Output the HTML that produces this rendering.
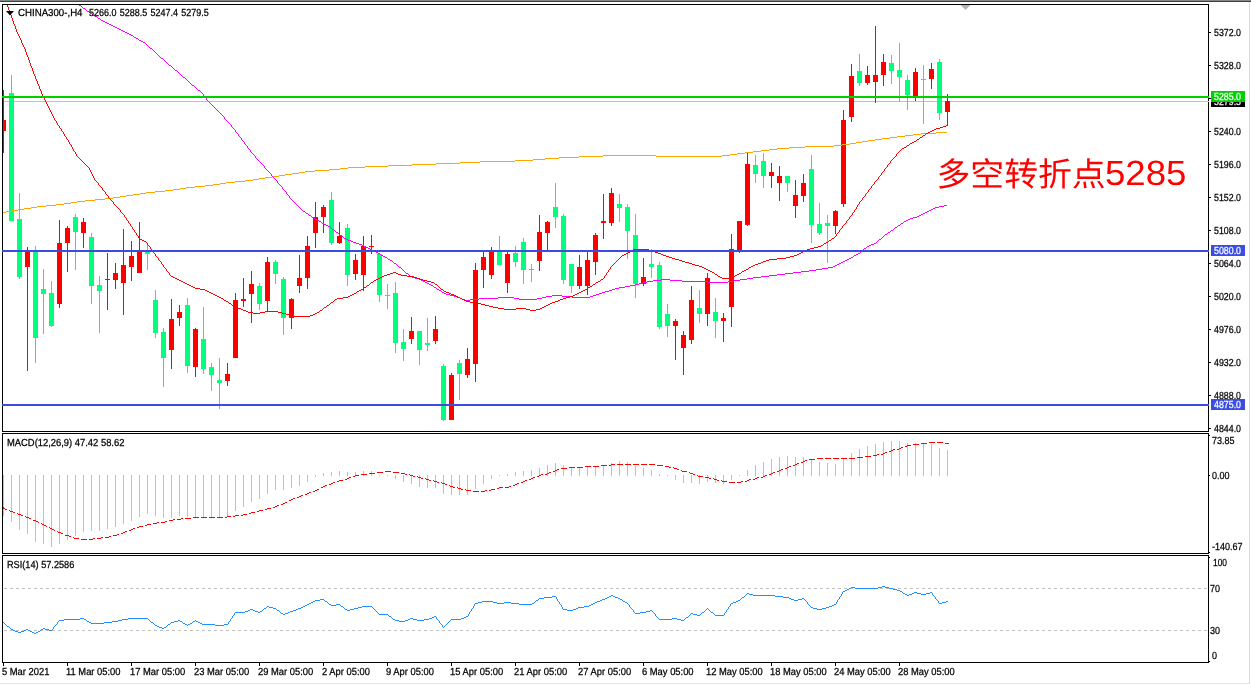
<!DOCTYPE html><html lang="zh"><head><meta charset="utf-8"><title>CHINA300-,H4</title>
<style>html,body{margin:0;padding:0;background:#fff;overflow:hidden}svg{display:block}text{font-family:"Liberation Sans","Noto Sans CJK SC",sans-serif;font-size:10.2px;text-rendering:geometricPrecision;fill:#000;stroke:#000;stroke-width:0.25px}.w{stroke:#fff}.w{fill:#fff}.ce{shape-rendering:crispEdges}</style></head><body>
<svg width="1251" height="685" viewBox="0 0 1251 685">
<rect width="1251" height="685" fill="#fff"/>
<g class="ce">
<rect x="0" y="0" width="1251" height="1" fill="#868686"/><rect x="0" y="1" width="1251" height="1" fill="#404040"/>
<rect x="1249" y="2" width="1" height="682" fill="#dcdcdc"/><rect x="0" y="683" width="1250" height="1" fill="#e4e4e4"/>
</g>
<g class="ce">
<rect x="3" y="101" width="1205" height="1" fill="#c0c0c0"/>
<rect x="3" y="90" width="1" height="63" fill="#FF0000"/>
<rect x="3" y="120" width="3" height="11" fill="#FF0000"/>
<rect x="11" y="75" width="1" height="146" fill="#00FF7F"/>
<rect x="9" y="93" width="5" height="128" fill="#00FF7F"/>
<rect x="19" y="193" width="1" height="86" fill="#00FF7F"/>
<rect x="17" y="219" width="5" height="58" fill="#00FF7F"/>
<rect x="27" y="247" width="1" height="124" fill="#FF0000"/>
<rect x="25" y="252" width="5" height="15" fill="#FF0000"/>
<rect x="35" y="246" width="1" height="117" fill="#00FF7F"/>
<rect x="33" y="252" width="5" height="86" fill="#00FF7F"/>
<rect x="43" y="269" width="1" height="65" fill="#00FF7F"/>
<rect x="41" y="289" width="5" height="5" fill="#00FF7F"/>
<rect x="51" y="281" width="1" height="46" fill="#00FF7F"/>
<rect x="49" y="293" width="5" height="33" fill="#00FF7F"/>
<rect x="59" y="220" width="1" height="88" fill="#FF0000"/>
<rect x="57" y="243" width="5" height="61" fill="#FF0000"/>
<rect x="67" y="226" width="1" height="46" fill="#FF0000"/>
<rect x="65" y="228" width="5" height="15" fill="#FF0000"/>
<rect x="75" y="214" width="1" height="56" fill="#00FF7F"/>
<rect x="73" y="217" width="5" height="15" fill="#00FF7F"/>
<rect x="83" y="218" width="1" height="30" fill="#FF0000"/>
<rect x="81" y="222" width="5" height="11" fill="#FF0000"/>
<rect x="91" y="233" width="1" height="71" fill="#00FF7F"/>
<rect x="89" y="237" width="5" height="49" fill="#00FF7F"/>
<rect x="99" y="276" width="1" height="57" fill="#00FF7F"/>
<rect x="97" y="285" width="5" height="6" fill="#00FF7F"/>
<rect x="107" y="253" width="1" height="57" fill="#FF0000"/>
<rect x="105" y="279" width="5" height="1" fill="#FF0000"/>
<rect x="115" y="263" width="1" height="26" fill="#FF0000"/>
<rect x="113" y="273" width="5" height="7" fill="#FF0000"/>
<rect x="123" y="229" width="1" height="86" fill="#FF0000"/>
<rect x="121" y="265" width="5" height="18" fill="#FF0000"/>
<rect x="131" y="241" width="1" height="40" fill="#FF0000"/>
<rect x="129" y="256" width="5" height="11" fill="#FF0000"/>
<rect x="139" y="222" width="1" height="51" fill="#FF0000"/>
<rect x="137" y="252" width="5" height="21" fill="#FF0000"/>
<rect x="147" y="244" width="1" height="26" fill="#00FF7F"/>
<rect x="145" y="252" width="5" height="2" fill="#00FF7F"/>
<rect x="155" y="290" width="1" height="48" fill="#00FF7F"/>
<rect x="153" y="300" width="5" height="33" fill="#00FF7F"/>
<rect x="163" y="328" width="1" height="59" fill="#00FF7F"/>
<rect x="161" y="332" width="5" height="26" fill="#00FF7F"/>
<rect x="171" y="299" width="1" height="70" fill="#FF0000"/>
<rect x="169" y="319" width="5" height="31" fill="#FF0000"/>
<rect x="179" y="305" width="1" height="21" fill="#FF0000"/>
<rect x="177" y="312" width="5" height="6" fill="#FF0000"/>
<rect x="187" y="298" width="1" height="75" fill="#00FF7F"/>
<rect x="185" y="305" width="5" height="61" fill="#00FF7F"/>
<rect x="195" y="328" width="1" height="49" fill="#FF0000"/>
<rect x="193" y="329" width="5" height="38" fill="#FF0000"/>
<rect x="203" y="307" width="1" height="67" fill="#00FF7F"/>
<rect x="201" y="339" width="5" height="30" fill="#00FF7F"/>
<rect x="211" y="363" width="1" height="28" fill="#00FF7F"/>
<rect x="209" y="367" width="5" height="8" fill="#00FF7F"/>
<rect x="219" y="358" width="1" height="51" fill="#00FF7F"/>
<rect x="217" y="380" width="5" height="3" fill="#00FF7F"/>
<rect x="227" y="363" width="1" height="23" fill="#FF0000"/>
<rect x="225" y="374" width="5" height="7" fill="#FF0000"/>
<rect x="235" y="293" width="1" height="65" fill="#FF0000"/>
<rect x="233" y="300" width="5" height="58" fill="#FF0000"/>
<rect x="243" y="278" width="1" height="29" fill="#FF0000"/>
<rect x="241" y="299" width="5" height="2" fill="#FF0000"/>
<rect x="251" y="271" width="1" height="52" fill="#FF0000"/>
<rect x="249" y="284" width="5" height="10" fill="#FF0000"/>
<rect x="259" y="283" width="1" height="27" fill="#00FF7F"/>
<rect x="257" y="286" width="5" height="18" fill="#00FF7F"/>
<rect x="267" y="257" width="1" height="54" fill="#FF0000"/>
<rect x="265" y="262" width="5" height="39" fill="#FF0000"/>
<rect x="275" y="260" width="1" height="24" fill="#00FF7F"/>
<rect x="273" y="262" width="5" height="12" fill="#00FF7F"/>
<rect x="283" y="277" width="1" height="58" fill="#00FF7F"/>
<rect x="281" y="279" width="5" height="39" fill="#00FF7F"/>
<rect x="291" y="298" width="1" height="31" fill="#FF0000"/>
<rect x="289" y="299" width="5" height="19" fill="#FF0000"/>
<rect x="299" y="255" width="1" height="38" fill="#FF0000"/>
<rect x="297" y="278" width="5" height="8" fill="#FF0000"/>
<rect x="307" y="236" width="1" height="53" fill="#FF0000"/>
<rect x="305" y="246" width="5" height="32" fill="#FF0000"/>
<rect x="315" y="202" width="1" height="46" fill="#FF0000"/>
<rect x="313" y="217" width="5" height="16" fill="#FF0000"/>
<rect x="323" y="205" width="1" height="28" fill="#FF0000"/>
<rect x="321" y="207" width="5" height="10" fill="#FF0000"/>
<rect x="331" y="192" width="1" height="53" fill="#00FF7F"/>
<rect x="329" y="200" width="5" height="43" fill="#00FF7F"/>
<rect x="339" y="222" width="1" height="22" fill="#FF0000"/>
<rect x="337" y="236" width="5" height="7" fill="#FF0000"/>
<rect x="347" y="224" width="1" height="62" fill="#00FF7F"/>
<rect x="345" y="228" width="5" height="47" fill="#00FF7F"/>
<rect x="355" y="254" width="1" height="26" fill="#FF0000"/>
<rect x="353" y="260" width="5" height="14" fill="#FF0000"/>
<rect x="363" y="236" width="1" height="55" fill="#FF0000"/>
<rect x="361" y="246" width="5" height="29" fill="#FF0000"/>
<rect x="371" y="235" width="1" height="19" fill="#FF0000"/>
<rect x="369" y="246" width="5" height="1" fill="#FF0000"/>
<rect x="379" y="254" width="1" height="48" fill="#00FF7F"/>
<rect x="377" y="254" width="5" height="41" fill="#00FF7F"/>
<rect x="387" y="284" width="1" height="25" fill="#00FF7F"/>
<rect x="385" y="295" width="5" height="1" fill="#00FF7F"/>
<rect x="395" y="282" width="1" height="71" fill="#00FF7F"/>
<rect x="393" y="293" width="5" height="50" fill="#00FF7F"/>
<rect x="403" y="329" width="1" height="32" fill="#00FF7F"/>
<rect x="401" y="342" width="5" height="7" fill="#00FF7F"/>
<rect x="411" y="317" width="1" height="27" fill="#FF0000"/>
<rect x="409" y="331" width="5" height="8" fill="#FF0000"/>
<rect x="419" y="331" width="1" height="34" fill="#00FF7F"/>
<rect x="417" y="331" width="5" height="19" fill="#00FF7F"/>
<rect x="427" y="318" width="1" height="33" fill="#00FF7F"/>
<rect x="425" y="343" width="5" height="2" fill="#00FF7F"/>
<rect x="435" y="316" width="1" height="28" fill="#FF0000"/>
<rect x="433" y="329" width="5" height="12" fill="#FF0000"/>
<rect x="443" y="364" width="1" height="57" fill="#00FF7F"/>
<rect x="441" y="366" width="5" height="54" fill="#00FF7F"/>
<rect x="451" y="373" width="1" height="47" fill="#FF0000"/>
<rect x="449" y="375" width="5" height="45" fill="#FF0000"/>
<rect x="459" y="360" width="1" height="40" fill="#00FF7F"/>
<rect x="457" y="363" width="5" height="11" fill="#00FF7F"/>
<rect x="467" y="348" width="1" height="30" fill="#FF0000"/>
<rect x="465" y="359" width="5" height="16" fill="#FF0000"/>
<rect x="475" y="263" width="1" height="119" fill="#FF0000"/>
<rect x="473" y="270" width="5" height="94" fill="#FF0000"/>
<rect x="483" y="252" width="1" height="36" fill="#FF0000"/>
<rect x="481" y="257" width="5" height="13" fill="#FF0000"/>
<rect x="491" y="247" width="1" height="32" fill="#FF0000"/>
<rect x="489" y="252" width="5" height="23" fill="#FF0000"/>
<rect x="499" y="236" width="1" height="29" fill="#00FF7F"/>
<rect x="497" y="252" width="5" height="13" fill="#00FF7F"/>
<rect x="507" y="252" width="1" height="41" fill="#FF0000"/>
<rect x="505" y="254" width="5" height="29" fill="#FF0000"/>
<rect x="515" y="246" width="1" height="21" fill="#00FF7F"/>
<rect x="513" y="253" width="5" height="9" fill="#00FF7F"/>
<rect x="523" y="238" width="1" height="46" fill="#00FF7F"/>
<rect x="521" y="242" width="5" height="28" fill="#00FF7F"/>
<rect x="531" y="264" width="1" height="18" fill="#00FF7F"/>
<rect x="529" y="269" width="5" height="1" fill="#00FF7F"/>
<rect x="539" y="215" width="1" height="56" fill="#FF0000"/>
<rect x="537" y="232" width="5" height="29" fill="#FF0000"/>
<rect x="547" y="221" width="1" height="29" fill="#FF0000"/>
<rect x="545" y="222" width="5" height="11" fill="#FF0000"/>
<rect x="555" y="183" width="1" height="45" fill="#00FF7F"/>
<rect x="553" y="207" width="5" height="10" fill="#00FF7F"/>
<rect x="563" y="214" width="1" height="70" fill="#00FF7F"/>
<rect x="561" y="216" width="5" height="64" fill="#00FF7F"/>
<rect x="571" y="264" width="1" height="29" fill="#00FF7F"/>
<rect x="569" y="264" width="5" height="22" fill="#00FF7F"/>
<rect x="579" y="255" width="1" height="34" fill="#FF0000"/>
<rect x="577" y="267" width="5" height="19" fill="#FF0000"/>
<rect x="587" y="252" width="1" height="43" fill="#FF0000"/>
<rect x="585" y="260" width="5" height="26" fill="#FF0000"/>
<rect x="595" y="233" width="1" height="42" fill="#FF0000"/>
<rect x="593" y="235" width="5" height="27" fill="#FF0000"/>
<rect x="603" y="194" width="1" height="45" fill="#FF0000"/>
<rect x="601" y="221" width="5" height="2" fill="#FF0000"/>
<rect x="611" y="188" width="1" height="38" fill="#FF0000"/>
<rect x="609" y="193" width="5" height="30" fill="#FF0000"/>
<rect x="619" y="194" width="1" height="28" fill="#00FF7F"/>
<rect x="617" y="204" width="5" height="4" fill="#00FF7F"/>
<rect x="627" y="204" width="1" height="55" fill="#00FF7F"/>
<rect x="625" y="207" width="5" height="24" fill="#00FF7F"/>
<rect x="635" y="214" width="1" height="84" fill="#00FF7F"/>
<rect x="633" y="235" width="5" height="49" fill="#00FF7F"/>
<rect x="643" y="258" width="1" height="28" fill="#FF0000"/>
<rect x="641" y="277" width="5" height="7" fill="#FF0000"/>
<rect x="651" y="249" width="1" height="29" fill="#00FF7F"/>
<rect x="649" y="264" width="5" height="3" fill="#00FF7F"/>
<rect x="659" y="262" width="1" height="67" fill="#00FF7F"/>
<rect x="657" y="265" width="5" height="62" fill="#00FF7F"/>
<rect x="667" y="304" width="1" height="33" fill="#00FF7F"/>
<rect x="665" y="314" width="5" height="12" fill="#00FF7F"/>
<rect x="675" y="319" width="1" height="41" fill="#FF0000"/>
<rect x="673" y="321" width="5" height="5" fill="#FF0000"/>
<rect x="683" y="331" width="1" height="44" fill="#FF0000"/>
<rect x="681" y="335" width="5" height="13" fill="#FF0000"/>
<rect x="691" y="286" width="1" height="58" fill="#FF0000"/>
<rect x="689" y="300" width="5" height="40" fill="#FF0000"/>
<rect x="699" y="290" width="1" height="33" fill="#00FF7F"/>
<rect x="697" y="308" width="5" height="6" fill="#00FF7F"/>
<rect x="707" y="273" width="1" height="53" fill="#FF0000"/>
<rect x="705" y="278" width="5" height="36" fill="#FF0000"/>
<rect x="715" y="298" width="1" height="40" fill="#00FF7F"/>
<rect x="713" y="312" width="5" height="9" fill="#00FF7F"/>
<rect x="723" y="313" width="1" height="29" fill="#FF0000"/>
<rect x="721" y="318" width="5" height="3" fill="#FF0000"/>
<rect x="731" y="234" width="1" height="93" fill="#FF0000"/>
<rect x="729" y="249" width="5" height="58" fill="#FF0000"/>
<rect x="739" y="221" width="1" height="32" fill="#FF0000"/>
<rect x="737" y="221" width="5" height="30" fill="#FF0000"/>
<rect x="747" y="152" width="1" height="74" fill="#FF0000"/>
<rect x="745" y="164" width="5" height="61" fill="#FF0000"/>
<rect x="755" y="155" width="1" height="28" fill="#00FF7F"/>
<rect x="753" y="165" width="5" height="9" fill="#00FF7F"/>
<rect x="763" y="153" width="1" height="35" fill="#00FF7F"/>
<rect x="761" y="161" width="5" height="15" fill="#00FF7F"/>
<rect x="771" y="163" width="1" height="25" fill="#FF0000"/>
<rect x="769" y="172" width="5" height="4" fill="#FF0000"/>
<rect x="779" y="166" width="1" height="35" fill="#FF0000"/>
<rect x="777" y="176" width="5" height="7" fill="#FF0000"/>
<rect x="787" y="176" width="1" height="16" fill="#00FF7F"/>
<rect x="785" y="176" width="5" height="7" fill="#00FF7F"/>
<rect x="795" y="180" width="1" height="38" fill="#FF0000"/>
<rect x="793" y="195" width="5" height="11" fill="#FF0000"/>
<rect x="803" y="174" width="1" height="28" fill="#FF0000"/>
<rect x="801" y="183" width="5" height="13" fill="#FF0000"/>
<rect x="811" y="155" width="1" height="88" fill="#00FF7F"/>
<rect x="809" y="169" width="5" height="56" fill="#00FF7F"/>
<rect x="819" y="203" width="1" height="32" fill="#00FF7F"/>
<rect x="817" y="224" width="5" height="9" fill="#00FF7F"/>
<rect x="827" y="215" width="1" height="48" fill="#00FF7F"/>
<rect x="825" y="223" width="5" height="3" fill="#00FF7F"/>
<rect x="835" y="210" width="1" height="24" fill="#FF0000"/>
<rect x="833" y="211" width="5" height="15" fill="#FF0000"/>
<rect x="843" y="110" width="1" height="97" fill="#FF0000"/>
<rect x="841" y="120" width="5" height="84" fill="#FF0000"/>
<rect x="851" y="64" width="1" height="58" fill="#FF0000"/>
<rect x="849" y="76" width="5" height="41" fill="#FF0000"/>
<rect x="859" y="54" width="1" height="32" fill="#00FF7F"/>
<rect x="857" y="71" width="5" height="12" fill="#00FF7F"/>
<rect x="867" y="66" width="1" height="19" fill="#FF0000"/>
<rect x="865" y="75" width="5" height="8" fill="#FF0000"/>
<rect x="875" y="26" width="1" height="77" fill="#FF0000"/>
<rect x="873" y="75" width="5" height="7" fill="#FF0000"/>
<rect x="883" y="54" width="1" height="32" fill="#FF0000"/>
<rect x="881" y="62" width="5" height="13" fill="#FF0000"/>
<rect x="891" y="55" width="1" height="29" fill="#00FF7F"/>
<rect x="889" y="63" width="5" height="8" fill="#00FF7F"/>
<rect x="899" y="43" width="1" height="59" fill="#00FF7F"/>
<rect x="897" y="70" width="5" height="7" fill="#00FF7F"/>
<rect x="907" y="75" width="1" height="35" fill="#00FF7F"/>
<rect x="905" y="80" width="5" height="15" fill="#00FF7F"/>
<rect x="915" y="68" width="1" height="33" fill="#FF0000"/>
<rect x="913" y="72" width="5" height="25" fill="#FF0000"/>
<rect x="923" y="65" width="1" height="59" fill="#00FF7F"/>
<rect x="921" y="79" width="5" height="1" fill="#00FF7F"/>
<rect x="931" y="63" width="1" height="26" fill="#FF0000"/>
<rect x="929" y="69" width="5" height="10" fill="#FF0000"/>
<rect x="939" y="59" width="1" height="61" fill="#00FF7F"/>
<rect x="937" y="62" width="5" height="51" fill="#00FF7F"/>
<rect x="947" y="94" width="1" height="31" fill="#FF0000"/>
<rect x="945" y="101" width="5" height="11" fill="#FF0000"/>
</g>
<g class="ce" stroke-linejoin="round">
<path d="M3 212h3v1h-3zM6 211h6v1h-6zM12 210h6v1h-6zM18 209h6v1h-6zM24 208h7v1h-7zM31 207h6v1h-6zM37 206h9v1h-9zM46 205h10v1h-10zM56 204h8v1h-8zM64 203h7v1h-7zM71 202h6v1h-6zM77 201h8v1h-8zM85 200h10v1h-10zM95 199h10v1h-10zM105 198h8v1h-8zM113 197h7v1h-7zM120 196h6v1h-6zM126 195h7v1h-7zM133 194h7v1h-7zM140 193h6v1h-6zM146 192h9v1h-9zM155 191h10v1h-10zM165 190h8v1h-8zM173 189h7v1h-7zM180 188h6v1h-6zM186 187h9v1h-9zM195 186h10v1h-10zM205 185h8v1h-8zM213 184h7v1h-7zM220 183h6v1h-6zM226 182h9v1h-9zM235 181h10v1h-10zM245 180h8v1h-8zM253 179h6v1h-6zM259 178h6v1h-6zM265 177h7v1h-7zM272 176h7v1h-7zM279 175h6v1h-6zM285 174h7v1h-7zM292 173h7v1h-7zM299 172h6v1h-6zM305 171h10v1h-10zM315 170h14v1h-14zM329 169h11v1h-11zM340 168h8v1h-8zM348 167h17v1h-17zM365 166h23v1h-23zM388 165h24v1h-24zM412 164h24v1h-24zM436 163h24v1h-24zM460 162h20v1h-20zM480 161h35v1h-35zM515 160h18v1h-18zM533 159h12v1h-12zM545 158h14v1h-14zM559 157h20v1h-20zM579 156h24v1h-24zM603 155h53v1h-53zM656 156h66v1h-66zM722 155h8v1h-8zM730 154h7v1h-7zM737 153h8v1h-8zM745 152h8v1h-8zM753 151h8v1h-8zM761 150h8v1h-8zM769 149h8v1h-8zM777 148h12v1h-12zM789 147h16v1h-16zM805 146h29v1h-29zM834 145h8v1h-8zM842 144h8v1h-8zM850 143h6v1h-6zM856 142h6v1h-6zM862 141h6v1h-6zM868 140h7v1h-7zM875 139h7v1h-7zM882 138h8v1h-8zM890 137h7v1h-7zM897 136h8v1h-8zM905 135h8v1h-8zM913 134h8v1h-8zM921 133h15v1h-15zM936 132h11v1h-11z" fill="#FFA500"/>
<path d="M78 4h1v1h-1zM79 5h2v1h-2zM81 6h1v1h-1zM82 7h1v1h-1zM83 8h2v1h-2zM85 9h1v1h-1zM86 10h1v1h-1zM87 11h2v1h-2zM89 12h1v1h-1zM90 13h2v1h-2zM92 14h1v1h-1zM93 15h2v1h-2zM95 16h2v1h-2zM97 17h1v1h-1zM98 18h2v1h-2zM100 19h1v1h-1zM101 20h2v1h-2zM103 21h2v1h-2zM105 22h2v1h-2zM107 23h2v1h-2zM109 24h2v1h-2zM111 25h2v1h-2zM113 26h2v1h-2zM115 27h2v1h-2zM117 28h2v1h-2zM119 29h2v1h-2zM121 30h2v1h-2zM123 31h2v1h-2zM125 32h2v1h-2zM127 33h2v1h-2zM129 34h2v1h-2zM131 35h2v1h-2zM133 36h1v1h-1zM134 37h2v1h-2zM136 38h2v1h-2zM138 39h1v1h-1zM139 40h2v1h-2zM141 41h2v1h-2zM143 42h2v1h-2zM145 43h1v1h-1zM146 44h1v1h-1zM147 45h1v1h-1zM148 46h1v1h-1zM149 47h1v1h-1zM150 48h2v1h-2zM152 49h1v1h-1zM153 50h1v1h-1zM154 51h1v1h-1zM155 52h1v1h-1zM156 53h1v1h-1zM157 54h1v1h-1zM158 55h1v1h-1zM159 56h1v1h-1zM160 57h1v1h-1zM161 58h2v1h-2zM163 59h1v1h-1zM164 60h1v1h-1zM165 61h1v1h-1zM166 62h1v1h-1zM167 63h1v1h-1zM168 64h1v1h-1zM169 65h2v1h-2zM171 66h1v1h-1zM172 67h1v1h-1zM173 68h1v1h-1zM174 69h1v1h-1zM175 70h2v1h-2zM177 71h1v1h-1zM178 72h1v1h-1zM179 73h1v1h-1zM180 74h1v1h-1zM181 75h1v1h-1zM182 76h1v1h-1zM183 77h2v1h-2zM185 78h1v1h-1zM186 79h1v1h-1zM187 80h1v1h-1zM188 81h1v1h-1zM189 82h1v1h-1zM190 83h1v1h-1zM191 84h1v1h-1zM192 85h2v1h-2zM194 86h1v1h-1zM195 87h1v1h-1zM196 88h1v1h-1zM197 89h1v1h-1zM198 90h2v1h-2zM200 91h1v1h-1zM201 92h1v1h-1zM202 93h1v1h-1zM203 94h1v2h-1zM204 96h1v1h-1zM205 97h1v1h-1zM206 98h1v2h-1zM207 100h1v1h-1zM208 101h1v1h-1zM209 102h1v1h-1zM210 103h1v1h-1zM211 104h1v1h-1zM212 105h1v1h-1zM213 106h1v1h-1zM214 107h1v1h-1zM215 108h1v1h-1zM216 109h1v1h-1zM217 110h1v1h-1zM218 111h1v1h-1zM219 112h1v1h-1zM220 113h1v1h-1zM221 114h1v1h-1zM222 115h1v1h-1zM223 116h1v1h-1zM224 117h1v2h-1zM225 119h1v1h-1zM226 120h1v1h-1zM227 121h1v1h-1zM228 122h1v1h-1zM229 123h1v1h-1zM230 124h1v1h-1zM231 125h1v2h-1zM232 127h1v1h-1zM233 128h1v1h-1zM234 129h1v1h-1zM235 130h1v2h-1zM236 132h1v1h-1zM237 133h1v1h-1zM238 134h1v2h-1zM239 136h1v1h-1zM240 137h1v1h-1zM241 138h1v2h-1zM242 140h1v1h-1zM243 141h1v1h-1zM244 142h1v2h-1zM245 144h1v1h-1zM246 145h1v1h-1zM247 146h1v2h-1zM248 148h1v1h-1zM249 149h1v1h-1zM250 150h1v2h-1zM251 152h1v1h-1zM252 153h1v1h-1zM253 154h1v1h-1zM254 155h1v1h-1zM255 156h1v2h-1zM256 158h1v1h-1zM257 159h1v1h-1zM258 160h1v1h-1zM259 161h1v1h-1zM260 162h1v1h-1zM261 163h1v1h-1zM262 164h1v1h-1zM263 165h1v1h-1zM264 166h1v2h-1zM265 168h1v1h-1zM266 169h1v1h-1zM267 170h1v1h-1zM268 171h1v1h-1zM269 172h1v1h-1zM270 173h1v1h-1zM271 174h1v2h-1zM272 176h1v1h-1zM273 177h1v1h-1zM274 178h1v1h-1zM275 179h1v1h-1zM276 180h1v1h-1zM277 181h1v2h-1zM278 183h1v1h-1zM279 184h1v1h-1zM280 185h1v1h-1zM281 186h1v1h-1zM282 187h1v2h-1zM283 189h1v1h-1zM284 190h1v1h-1zM285 191h1v1h-1zM286 192h1v2h-1zM287 194h1v1h-1zM288 195h1v1h-1zM289 196h1v2h-1zM290 198h1v1h-1zM291 199h1v1h-1zM292 200h1v1h-1zM293 201h1v1h-1zM294 202h1v1h-1zM295 203h1v1h-1zM296 204h1v1h-1zM297 205h1v1h-1zM298 206h1v1h-1zM299 207h1v1h-1zM300 208h1v1h-1zM301 209h1v1h-1zM302 210h1v1h-1zM303 211h2v1h-2zM305 212h1v1h-1zM306 213h2v1h-2zM308 214h1v1h-1zM309 215h2v1h-2zM311 216h1v1h-1zM312 217h2v1h-2zM314 218h1v1h-1zM315 219h2v1h-2zM317 220h2v1h-2zM319 221h2v1h-2zM321 222h1v1h-1zM322 223h2v1h-2zM324 224h2v1h-2zM326 225h2v1h-2zM328 226h2v1h-2zM330 227h1v1h-1zM331 228h1v1h-1zM332 229h2v1h-2zM334 230h1v1h-1zM335 231h1v1h-1zM336 232h2v1h-2zM338 233h1v1h-1zM339 234h1v1h-1zM340 235h2v1h-2zM342 236h1v1h-1zM343 237h1v1h-1zM344 238h2v1h-2zM346 239h2v1h-2zM348 240h3v1h-3zM351 241h2v1h-2zM353 242h3v1h-3zM356 243h3v1h-3zM359 244h3v1h-3zM362 245h2v1h-2zM364 246h2v1h-2zM366 247h2v1h-2zM368 248h2v1h-2zM370 249h2v1h-2zM372 250h2v1h-2zM374 251h2v1h-2zM376 252h2v1h-2zM378 253h2v1h-2zM380 254h1v1h-1zM381 255h2v1h-2zM383 256h2v1h-2zM385 257h2v1h-2zM387 258h1v1h-1zM388 259h2v1h-2zM390 260h2v1h-2zM392 261h1v1h-1zM393 262h1v1h-1zM394 263h2v1h-2zM396 264h1v1h-1zM397 265h1v1h-1zM398 266h1v1h-1zM399 267h2v1h-2zM401 268h1v1h-1zM402 269h1v1h-1zM403 270h1v1h-1zM404 271h1v1h-1zM405 272h1v1h-1zM406 273h2v1h-2zM408 274h1v1h-1zM409 275h1v1h-1zM410 276h2v1h-2zM412 277h3v1h-3zM415 278h4v1h-4zM419 279h2v1h-2zM421 280h2v1h-2zM423 281h2v1h-2zM425 282h2v1h-2zM427 283h2v1h-2zM429 284h2v1h-2zM431 285h2v1h-2zM433 286h1v1h-1zM434 287h2v1h-2zM436 288h1v1h-1zM437 289h2v1h-2zM439 290h2v1h-2zM441 291h1v1h-1zM442 292h2v1h-2zM444 293h2v1h-2zM446 294h4v1h-4zM450 295h4v1h-4zM454 296h3v1h-3zM457 297h3v1h-3zM460 298h2v1h-2zM462 299h3v1h-3zM465 300h5v1h-5zM470 299h9v1h-9zM479 298h19v1h-19zM498 297h16v1h-16zM514 298h5v1h-5zM519 299h18v1h-18zM537 298h5v1h-5zM542 297h4v1h-4zM546 296h6v1h-6zM552 295h10v1h-10zM562 296h10v1h-10zM572 297h18v1h-18zM590 296h3v1h-3zM593 295h3v1h-3zM596 294h3v1h-3zM599 293h3v1h-3zM602 292h3v1h-3zM605 291h4v1h-4zM609 290h3v1h-3zM612 289h3v1h-3zM615 288h4v1h-4zM619 287h6v1h-6zM625 286h5v1h-5zM630 285h5v1h-5zM635 284h4v1h-4zM639 283h4v1h-4zM643 282h4v1h-4zM647 281h6v1h-6zM653 280h8v1h-8zM661 279h9v1h-9zM670 280h12v1h-12zM682 281h26v1h-26zM708 282h20v1h-20zM728 281h6v1h-6zM734 280h6v1h-6zM740 279h7v1h-7zM747 278h6v1h-6zM753 277h8v1h-8zM761 276h8v1h-8zM769 275h8v1h-8zM777 274h8v1h-8zM785 273h8v1h-8zM793 272h8v1h-8zM801 271h8v1h-8zM809 270h7v1h-7zM816 269h6v1h-6zM822 268h6v1h-6zM828 267h5v1h-5zM833 266h2v1h-2zM835 265h2v1h-2zM837 264h2v1h-2zM839 263h2v1h-2zM841 262h2v1h-2zM843 261h2v1h-2zM845 260h2v1h-2zM847 259h2v1h-2zM849 258h2v1h-2zM851 257h2v1h-2zM853 256h1v1h-1zM854 255h2v1h-2zM856 254h2v1h-2zM858 253h2v1h-2zM860 252h1v1h-1zM861 251h1v1h-1zM862 250h1v1h-1zM863 249h1v1h-1zM864 248h2v1h-2zM866 247h1v1h-1zM867 246h2v1h-2zM869 245h2v1h-2zM871 244h3v1h-3zM874 243h2v1h-2zM876 242h1v1h-1zM877 241h1v1h-1zM878 240h1v1h-1zM879 239h2v1h-2zM881 238h1v1h-1zM882 237h1v1h-1zM883 236h1v1h-1zM884 235h1v1h-1zM885 234h2v1h-2zM887 233h1v1h-1zM888 232h2v1h-2zM890 231h1v1h-1zM891 230h2v1h-2zM893 229h1v1h-1zM894 228h1v1h-1zM895 227h2v1h-2zM897 226h1v1h-1zM898 225h2v1h-2zM900 224h1v1h-1zM901 223h2v1h-2zM903 222h1v1h-1zM904 221h2v1h-2zM906 220h2v1h-2zM908 219h2v1h-2zM910 218h3v1h-3zM913 217h4v1h-4zM917 216h2v1h-2zM919 215h2v1h-2zM921 214h2v1h-2zM923 213h2v1h-2zM925 212h2v1h-2zM927 211h2v1h-2zM929 210h2v1h-2zM931 209h2v1h-2zM933 208h2v1h-2zM935 207h4v1h-4zM939 206h5v1h-5zM944 205h3v1h-3z" fill="#FF00FF"/>
<path d="M7 5h1v2h-1zM8 7h1v3h-1zM9 10h1v2h-1zM10 12h1v3h-1zM11 15h1v3h-1zM12 18h1v3h-1zM13 21h1v3h-1zM14 24h1v2h-1zM15 26h1v3h-1zM16 29h1v3h-1zM17 32h1v2h-1zM18 34h1v2h-1zM19 36h1v2h-1zM20 38h1v2h-1zM21 40h1v3h-1zM22 43h1v2h-1zM23 45h1v2h-1zM24 47h1v2h-1zM25 49h1v3h-1zM26 52h1v3h-1zM27 55h1v2h-1zM28 57h1v3h-1zM29 60h1v3h-1zM30 63h1v3h-1zM31 66h1v2h-1zM32 68h1v3h-1zM33 71h1v3h-1zM34 74h1v2h-1zM35 76h1v3h-1zM36 79h1v2h-1zM37 81h1v3h-1zM38 84h1v2h-1zM39 86h1v3h-1zM40 89h1v2h-1zM41 91h1v3h-1zM42 94h1v2h-1zM43 96h1v2h-1zM44 98h1v2h-1zM45 100h1v2h-1zM46 102h1v2h-1zM47 104h1v2h-1zM48 106h1v2h-1zM49 108h1v2h-1zM50 110h1v2h-1zM51 112h1v2h-1zM52 114h1v2h-1zM53 116h1v2h-1zM54 118h1v2h-1zM55 120h1v1h-1zM56 121h1v2h-1zM57 123h1v2h-1zM58 125h1v1h-1zM59 126h1v2h-1zM60 128h1v1h-1zM61 129h1v2h-1zM62 131h1v1h-1zM63 132h1v2h-1zM64 134h1v2h-1zM65 136h1v1h-1zM66 137h1v2h-1zM67 139h1v1h-1zM68 140h1v2h-1zM69 142h1v2h-1zM70 144h1v1h-1zM71 145h1v2h-1zM72 147h1v2h-1zM73 149h1v2h-1zM74 151h1v1h-1zM75 152h1v2h-1zM76 154h1v2h-1zM77 156h1v1h-1zM78 157h1v1h-1zM79 158h1v1h-1zM80 159h1v1h-1zM81 160h1v1h-1zM82 161h1v1h-1zM83 162h1v1h-1zM84 163h1v1h-1zM85 164h1v1h-1zM86 165h1v1h-1zM87 166h1v1h-1zM88 167h1v1h-1zM89 168h1v2h-1zM90 170h1v2h-1zM91 172h1v2h-1zM92 174h1v2h-1zM93 176h1v2h-1zM94 178h1v2h-1zM95 180h1v1h-1zM96 181h1v1h-1zM97 182h1v1h-1zM98 183h1v2h-1zM99 185h1v1h-1zM100 186h1v1h-1zM101 187h1v1h-1zM102 188h1v2h-1zM103 190h1v1h-1zM104 191h1v1h-1zM105 192h1v2h-1zM106 194h1v1h-1zM107 195h1v1h-1zM108 196h1v2h-1zM109 198h1v1h-1zM110 199h1v1h-1zM111 200h1v1h-1zM112 201h1v1h-1zM113 202h1v2h-1zM114 204h1v1h-1zM115 205h1v1h-1zM116 206h1v1h-1zM117 207h1v1h-1zM118 208h1v1h-1zM119 209h1v1h-1zM120 210h1v2h-1zM121 212h1v1h-1zM122 213h1v1h-1zM123 214h1v1h-1zM124 215h1v2h-1zM125 217h1v1h-1zM126 218h1v2h-1zM127 220h1v1h-1zM128 221h1v2h-1zM129 223h1v1h-1zM130 224h1v2h-1zM131 226h1v1h-1zM132 227h1v2h-1zM133 229h1v1h-1zM134 230h1v2h-1zM135 232h1v1h-1zM136 233h1v2h-1zM137 235h1v1h-1zM138 236h1v2h-1zM139 238h1v1h-1zM140 239h2v1h-2zM142 240h2v1h-2zM144 241h2v1h-2zM146 242h1v1h-1zM147 243h1v2h-1zM148 245h1v1h-1zM149 246h1v1h-1zM150 247h1v2h-1zM151 249h1v1h-1zM152 250h1v2h-1zM153 252h1v1h-1zM154 253h1v1h-1zM155 254h1v2h-1zM156 256h1v1h-1zM157 257h1v1h-1zM158 258h1v2h-1zM159 260h1v1h-1zM160 261h1v1h-1zM161 262h1v2h-1zM162 264h1v1h-1zM163 265h1v2h-1zM164 267h1v1h-1zM165 268h1v1h-1zM166 269h1v2h-1zM167 271h1v1h-1zM168 272h1v1h-1zM169 273h1v2h-1zM170 275h1v1h-1zM171 276h2v1h-2zM173 277h2v1h-2zM175 278h2v1h-2zM177 279h2v1h-2zM179 280h2v1h-2zM181 281h2v1h-2zM183 282h2v1h-2zM185 283h2v1h-2zM187 284h2v1h-2zM189 285h2v1h-2zM191 286h2v1h-2zM193 287h2v1h-2zM195 288h5v1h-5zM200 289h5v1h-5zM205 290h2v1h-2zM207 291h2v1h-2zM209 292h2v1h-2zM211 293h2v1h-2zM213 294h2v1h-2zM215 295h2v1h-2zM217 296h2v1h-2zM219 297h2v1h-2zM221 298h2v1h-2zM223 299h1v1h-1zM224 300h2v1h-2zM226 301h2v1h-2zM228 302h1v1h-1zM229 303h2v1h-2zM231 304h1v1h-1zM232 305h2v1h-2zM234 306h2v1h-2zM236 307h2v1h-2zM238 308h3v1h-3zM241 309h2v1h-2zM243 310h3v1h-3zM246 311h2v1h-2zM248 312h5v1h-5zM253 313h7v1h-7zM260 312h5v1h-5zM265 311h13v1h-13zM278 312h4v1h-4zM282 313h4v1h-4zM286 314h3v1h-3zM289 315h4v1h-4zM293 316h17v1h-17zM310 315h3v1h-3zM313 314h2v1h-2zM315 313h2v1h-2zM317 312h2v1h-2zM319 311h1v1h-1zM320 310h2v1h-2zM322 309h1v1h-1zM323 308h1v1h-1zM324 307h2v1h-2zM326 306h1v1h-1zM327 305h2v1h-2zM329 304h1v1h-1zM330 303h1v1h-1zM331 302h2v1h-2zM333 301h1v1h-1zM334 300h1v1h-1zM335 299h2v1h-2zM337 298h6v1h-6zM343 297h5v1h-5zM348 296h2v1h-2zM350 295h2v1h-2zM352 294h2v1h-2zM354 293h2v1h-2zM356 292h1v1h-1zM357 291h2v1h-2zM359 290h2v1h-2zM361 289h2v1h-2zM363 288h1v1h-1zM364 287h2v1h-2zM366 286h1v1h-1zM367 285h2v1h-2zM369 284h1v1h-1zM370 283h1v1h-1zM371 282h2v1h-2zM373 281h1v1h-1zM374 280h2v1h-2zM376 279h2v1h-2zM378 278h2v1h-2zM380 277h2v1h-2zM382 276h2v1h-2zM384 275h3v1h-3zM387 274h3v1h-3zM390 273h3v1h-3zM393 272h3v1h-3zM396 273h2v1h-2zM398 274h3v1h-3zM401 275h6v1h-6zM407 276h7v1h-7zM414 277h3v1h-3zM417 278h3v1h-3zM420 279h3v1h-3zM423 280h4v1h-4zM427 281h4v1h-4zM431 282h3v1h-3zM434 283h1v1h-1zM435 284h2v1h-2zM437 285h1v1h-1zM438 286h1v1h-1zM439 287h1v1h-1zM440 288h1v1h-1zM441 289h2v1h-2zM443 290h1v1h-1zM444 291h2v1h-2zM446 292h3v1h-3zM449 293h2v1h-2zM451 294h3v1h-3zM454 295h2v1h-2zM456 296h2v1h-2zM458 297h2v1h-2zM460 298h2v1h-2zM462 299h2v1h-2zM464 300h2v1h-2zM466 301h4v1h-4zM470 302h6v1h-6zM476 303h5v1h-5zM481 304h4v1h-4zM485 305h4v1h-4zM489 306h4v1h-4zM493 307h5v1h-5zM498 308h6v1h-6zM504 309h12v1h-12zM516 308h10v1h-10zM526 309h4v1h-4zM530 310h6v1h-6zM536 309h4v1h-4zM540 308h2v1h-2zM542 307h2v1h-2zM544 306h2v1h-2zM546 305h2v1h-2zM548 304h2v1h-2zM550 303h2v1h-2zM552 302h3v1h-3zM555 301h3v1h-3zM558 300h2v1h-2zM560 299h3v1h-3zM563 298h3v1h-3zM566 297h4v1h-4zM570 296h3v1h-3zM573 295h2v1h-2zM575 294h2v1h-2zM577 293h2v1h-2zM579 292h2v1h-2zM581 291h2v1h-2zM583 290h2v1h-2zM585 289h2v1h-2zM587 288h1v1h-1zM588 287h2v1h-2zM590 286h2v1h-2zM592 285h1v1h-1zM593 284h2v1h-2zM595 283h1v1h-1zM596 282h2v1h-2zM598 281h2v1h-2zM600 280h1v1h-1zM601 279h2v1h-2zM603 278h1v1h-1zM604 276h1v2h-1zM605 275h1v1h-1zM606 273h1v2h-1zM607 272h1v1h-1zM608 270h1v2h-1zM609 269h1v1h-1zM610 267h1v2h-1zM611 266h1v1h-1zM612 265h1v1h-1zM613 264h1v1h-1zM614 263h1v1h-1zM615 262h1v1h-1zM616 261h1v1h-1zM617 260h1v1h-1zM618 259h1v1h-1zM619 258h1v1h-1zM620 257h1v1h-1zM621 256h1v1h-1zM622 255h2v1h-2zM624 254h2v1h-2zM626 253h2v1h-2zM628 252h2v1h-2zM630 251h1v1h-1zM631 250h2v1h-2zM633 249h16v1h-16zM649 250h3v1h-3zM652 251h3v1h-3zM655 252h3v1h-3zM658 253h3v1h-3zM661 254h2v1h-2zM663 255h3v1h-3zM666 256h3v1h-3zM669 257h3v1h-3zM672 258h3v1h-3zM675 259h4v1h-4zM679 260h3v1h-3zM682 261h3v1h-3zM685 262h4v1h-4zM689 263h3v1h-3zM692 264h3v1h-3zM695 265h4v1h-4zM699 266h3v1h-3zM702 267h2v1h-2zM704 268h2v1h-2zM706 269h2v1h-2zM708 270h2v1h-2zM710 271h2v1h-2zM712 272h2v1h-2zM714 273h1v1h-1zM715 274h2v1h-2zM717 275h1v1h-1zM718 276h2v1h-2zM720 277h2v1h-2zM722 278h7v1h-7zM729 277h3v1h-3zM732 276h3v1h-3zM735 275h2v1h-2zM737 274h2v1h-2zM739 273h2v1h-2zM741 272h1v1h-1zM742 271h2v1h-2zM744 270h2v1h-2zM746 269h2v1h-2zM748 268h1v1h-1zM749 267h2v1h-2zM751 266h2v1h-2zM753 265h2v1h-2zM755 264h3v1h-3zM758 263h3v1h-3zM761 262h2v1h-2zM763 261h3v1h-3zM766 260h3v1h-3zM769 259h8v1h-8zM777 258h9v1h-9zM786 257h4v1h-4zM790 256h4v1h-4zM794 255h3v1h-3zM797 254h2v1h-2zM799 253h2v1h-2zM801 252h2v1h-2zM803 251h2v1h-2zM805 250h2v1h-2zM807 249h3v1h-3zM810 248h4v1h-4zM814 247h4v1h-4zM818 246h3v1h-3zM821 245h2v1h-2zM823 244h1v1h-1zM824 243h2v1h-2zM826 242h2v1h-2zM828 241h1v1h-1zM829 240h2v1h-2zM831 239h1v1h-1zM832 238h2v1h-2zM834 237h1v1h-1zM835 236h1v1h-1zM836 234h1v2h-1zM837 233h1v1h-1zM838 232h1v1h-1zM839 230h1v2h-1zM840 229h1v1h-1zM841 228h1v1h-1zM842 226h1v2h-1zM843 225h1v1h-1zM844 224h1v1h-1zM845 223h1v1h-1zM846 221h1v2h-1zM847 220h1v1h-1zM848 219h1v1h-1zM849 217h1v2h-1zM850 216h1v1h-1zM851 215h1v1h-1zM852 213h1v2h-1zM853 212h1v1h-1zM854 210h1v2h-1zM855 209h1v1h-1zM856 207h1v2h-1zM857 205h1v2h-1zM858 204h1v1h-1zM859 202h1v2h-1zM860 201h1v1h-1zM861 200h1v1h-1zM862 198h1v2h-1zM863 197h1v1h-1zM864 196h1v1h-1zM865 194h1v2h-1zM866 193h1v1h-1zM867 192h1v1h-1zM868 190h1v2h-1zM869 189h1v1h-1zM870 188h1v1h-1zM871 186h1v2h-1zM872 185h1v1h-1zM873 184h1v1h-1zM874 182h1v2h-1zM875 181h1v1h-1zM876 180h1v1h-1zM877 179h1v1h-1zM878 177h1v2h-1zM879 176h1v1h-1zM880 175h1v1h-1zM881 173h1v2h-1zM882 172h1v1h-1zM883 171h1v1h-1zM884 169h1v2h-1zM885 168h1v1h-1zM886 167h1v1h-1zM887 165h1v2h-1zM888 164h1v1h-1zM889 163h1v1h-1zM890 161h1v2h-1zM891 160h1v1h-1zM892 159h1v1h-1zM893 158h1v1h-1zM894 157h1v1h-1zM895 156h1v1h-1zM896 154h1v2h-1zM897 153h1v1h-1zM898 152h1v1h-1zM899 151h1v1h-1zM900 150h1v1h-1zM901 149h1v1h-1zM902 148h2v1h-2zM904 147h2v1h-2zM906 146h1v1h-1zM907 145h2v1h-2zM909 144h1v1h-1zM910 143h2v1h-2zM912 142h2v1h-2zM914 141h2v1h-2zM916 140h1v1h-1zM917 139h2v1h-2zM919 138h1v1h-1zM920 137h2v1h-2zM922 136h1v1h-1zM923 135h2v1h-2zM925 134h1v1h-1zM926 133h2v1h-2zM928 132h2v1h-2zM930 131h2v1h-2zM932 130h2v1h-2zM934 129h2v1h-2zM936 128h4v1h-4zM940 127h3v1h-3zM943 126h3v1h-3zM946 125h2v1h-2z" fill="#FF0000"/>
</g>
<g class="ce">
<polygon points="960.5,5 970.5,5 965.5,10" fill="#b4b4b4" shape-rendering="auto"/>
<rect x="3" y="475" width="1" height="41" fill="#c0c0c0"/>
<rect x="11" y="475" width="1" height="47" fill="#c0c0c0"/>
<rect x="19" y="475" width="1" height="55" fill="#c0c0c0"/>
<rect x="27" y="475" width="1" height="59" fill="#c0c0c0"/>
<rect x="35" y="475" width="1" height="67" fill="#c0c0c0"/>
<rect x="43" y="475" width="1" height="69" fill="#c0c0c0"/>
<rect x="51" y="475" width="1" height="72" fill="#c0c0c0"/>
<rect x="59" y="475" width="1" height="69" fill="#c0c0c0"/>
<rect x="67" y="475" width="1" height="65" fill="#c0c0c0"/>
<rect x="75" y="475" width="1" height="61" fill="#c0c0c0"/>
<rect x="83" y="475" width="1" height="57" fill="#c0c0c0"/>
<rect x="91" y="475" width="1" height="56" fill="#c0c0c0"/>
<rect x="99" y="475" width="1" height="56" fill="#c0c0c0"/>
<rect x="107" y="475" width="1" height="54" fill="#c0c0c0"/>
<rect x="115" y="475" width="1" height="52" fill="#c0c0c0"/>
<rect x="123" y="475" width="1" height="49" fill="#c0c0c0"/>
<rect x="131" y="475" width="1" height="46" fill="#c0c0c0"/>
<rect x="139" y="475" width="1" height="42" fill="#c0c0c0"/>
<rect x="147" y="475" width="1" height="39" fill="#c0c0c0"/>
<rect x="155" y="475" width="1" height="41" fill="#c0c0c0"/>
<rect x="163" y="475" width="1" height="43" fill="#c0c0c0"/>
<rect x="171" y="475" width="1" height="43" fill="#c0c0c0"/>
<rect x="179" y="475" width="1" height="41" fill="#c0c0c0"/>
<rect x="187" y="475" width="1" height="42" fill="#c0c0c0"/>
<rect x="195" y="475" width="1" height="42" fill="#c0c0c0"/>
<rect x="203" y="475" width="1" height="43" fill="#c0c0c0"/>
<rect x="211" y="475" width="1" height="43" fill="#c0c0c0"/>
<rect x="219" y="475" width="1" height="43" fill="#c0c0c0"/>
<rect x="227" y="475" width="1" height="42" fill="#c0c0c0"/>
<rect x="235" y="475" width="1" height="36" fill="#c0c0c0"/>
<rect x="243" y="475" width="1" height="32" fill="#c0c0c0"/>
<rect x="251" y="475" width="1" height="27" fill="#c0c0c0"/>
<rect x="259" y="475" width="1" height="24" fill="#c0c0c0"/>
<rect x="267" y="475" width="1" height="19" fill="#c0c0c0"/>
<rect x="275" y="475" width="1" height="15" fill="#c0c0c0"/>
<rect x="283" y="475" width="1" height="15" fill="#c0c0c0"/>
<rect x="291" y="475" width="1" height="13" fill="#c0c0c0"/>
<rect x="299" y="475" width="1" height="11" fill="#c0c0c0"/>
<rect x="307" y="475" width="1" height="7" fill="#c0c0c0"/>
<rect x="315" y="475" width="1" height="2" fill="#c0c0c0"/>
<rect x="323" y="473" width="1" height="3" fill="#c0c0c0"/>
<rect x="331" y="472" width="1" height="4" fill="#c0c0c0"/>
<rect x="339" y="471" width="1" height="5" fill="#c0c0c0"/>
<rect x="347" y="472" width="1" height="4" fill="#c0c0c0"/>
<rect x="355" y="472" width="1" height="4" fill="#c0c0c0"/>
<rect x="363" y="471" width="1" height="5" fill="#c0c0c0"/>
<rect x="371" y="471" width="1" height="5" fill="#c0c0c0"/>
<rect x="379" y="475" width="1" height="1" fill="#c0c0c0"/>
<rect x="387" y="475" width="1" height="1" fill="#c0c0c0"/>
<rect x="395" y="475" width="1" height="4" fill="#c0c0c0"/>
<rect x="403" y="475" width="1" height="7" fill="#c0c0c0"/>
<rect x="411" y="475" width="1" height="9" fill="#c0c0c0"/>
<rect x="419" y="475" width="1" height="12" fill="#c0c0c0"/>
<rect x="427" y="475" width="1" height="13" fill="#c0c0c0"/>
<rect x="435" y="475" width="1" height="13" fill="#c0c0c0"/>
<rect x="443" y="475" width="1" height="19" fill="#c0c0c0"/>
<rect x="451" y="475" width="1" height="20" fill="#c0c0c0"/>
<rect x="459" y="475" width="1" height="20" fill="#c0c0c0"/>
<rect x="467" y="475" width="1" height="20" fill="#c0c0c0"/>
<rect x="475" y="475" width="1" height="14" fill="#c0c0c0"/>
<rect x="483" y="475" width="1" height="9" fill="#c0c0c0"/>
<rect x="491" y="475" width="1" height="4" fill="#c0c0c0"/>
<rect x="499" y="475" width="1" height="1" fill="#c0c0c0"/>
<rect x="507" y="474" width="1" height="2" fill="#c0c0c0"/>
<rect x="515" y="472" width="1" height="4" fill="#c0c0c0"/>
<rect x="523" y="471" width="1" height="5" fill="#c0c0c0"/>
<rect x="531" y="470" width="1" height="6" fill="#c0c0c0"/>
<rect x="539" y="468" width="1" height="8" fill="#c0c0c0"/>
<rect x="547" y="465" width="1" height="11" fill="#c0c0c0"/>
<rect x="555" y="463" width="1" height="13" fill="#c0c0c0"/>
<rect x="563" y="465" width="1" height="11" fill="#c0c0c0"/>
<rect x="571" y="467" width="1" height="9" fill="#c0c0c0"/>
<rect x="579" y="467" width="1" height="9" fill="#c0c0c0"/>
<rect x="587" y="467" width="1" height="9" fill="#c0c0c0"/>
<rect x="595" y="466" width="1" height="10" fill="#c0c0c0"/>
<rect x="603" y="465" width="1" height="11" fill="#c0c0c0"/>
<rect x="611" y="463" width="1" height="13" fill="#c0c0c0"/>
<rect x="619" y="461" width="1" height="15" fill="#c0c0c0"/>
<rect x="627" y="462" width="1" height="14" fill="#c0c0c0"/>
<rect x="635" y="466" width="1" height="10" fill="#c0c0c0"/>
<rect x="643" y="468" width="1" height="8" fill="#c0c0c0"/>
<rect x="651" y="470" width="1" height="6" fill="#c0c0c0"/>
<rect x="659" y="474" width="1" height="2" fill="#c0c0c0"/>
<rect x="667" y="475" width="1" height="1" fill="#c0c0c0"/>
<rect x="675" y="475" width="1" height="5" fill="#c0c0c0"/>
<rect x="683" y="475" width="1" height="8" fill="#c0c0c0"/>
<rect x="691" y="475" width="1" height="8" fill="#c0c0c0"/>
<rect x="699" y="475" width="1" height="9" fill="#c0c0c0"/>
<rect x="707" y="475" width="1" height="7" fill="#c0c0c0"/>
<rect x="715" y="475" width="1" height="8" fill="#c0c0c0"/>
<rect x="723" y="475" width="1" height="9" fill="#c0c0c0"/>
<rect x="731" y="475" width="1" height="5" fill="#c0c0c0"/>
<rect x="739" y="475" width="1" height="1" fill="#c0c0c0"/>
<rect x="747" y="470" width="1" height="6" fill="#c0c0c0"/>
<rect x="755" y="465" width="1" height="11" fill="#c0c0c0"/>
<rect x="763" y="462" width="1" height="14" fill="#c0c0c0"/>
<rect x="771" y="459" width="1" height="17" fill="#c0c0c0"/>
<rect x="779" y="457" width="1" height="19" fill="#c0c0c0"/>
<rect x="787" y="456" width="1" height="20" fill="#c0c0c0"/>
<rect x="795" y="457" width="1" height="19" fill="#c0c0c0"/>
<rect x="803" y="457" width="1" height="19" fill="#c0c0c0"/>
<rect x="811" y="460" width="1" height="16" fill="#c0c0c0"/>
<rect x="819" y="462" width="1" height="14" fill="#c0c0c0"/>
<rect x="827" y="463" width="1" height="13" fill="#c0c0c0"/>
<rect x="835" y="464" width="1" height="12" fill="#c0c0c0"/>
<rect x="843" y="459" width="1" height="17" fill="#c0c0c0"/>
<rect x="851" y="453" width="1" height="23" fill="#c0c0c0"/>
<rect x="859" y="449" width="1" height="27" fill="#c0c0c0"/>
<rect x="867" y="446" width="1" height="30" fill="#c0c0c0"/>
<rect x="875" y="444" width="1" height="32" fill="#c0c0c0"/>
<rect x="883" y="442" width="1" height="34" fill="#c0c0c0"/>
<rect x="891" y="441" width="1" height="35" fill="#c0c0c0"/>
<rect x="899" y="441" width="1" height="35" fill="#c0c0c0"/>
<rect x="907" y="443" width="1" height="33" fill="#c0c0c0"/>
<rect x="915" y="443" width="1" height="33" fill="#c0c0c0"/>
<rect x="923" y="444" width="1" height="32" fill="#c0c0c0"/>
<rect x="931" y="444" width="1" height="32" fill="#c0c0c0"/>
<rect x="939" y="448" width="1" height="28" fill="#c0c0c0"/>
<rect x="947" y="450" width="1" height="26" fill="#c0c0c0"/>
</g>
<g class="ce">
<path d="M3 507h1v1h-1zM3 508h2v1h-2zM5 509h2v1h-2z" fill="#FF0000"/>
<path d="M9 510h1v1h-1zM10 511h3v1h-3zM13 512h2v1h-2z" fill="#FF0000"/>
<path d="M17 513h1v1h-1zM18 514h3v1h-3zM21 515h2v1h-2z" fill="#FF0000"/>
<path d="M25 516h1v1h-1zM26 517h3v1h-3zM29 518h2v1h-2z" fill="#FF0000"/>
<path d="M33 520h3v1h-3zM36 521h2v1h-2zM38 522h1v1h-1z" fill="#FF0000"/>
<path d="M41 523h1v1h-1zM42 524h2v1h-2zM44 525h2v1h-2zM46 526h1v1h-1z" fill="#FF0000"/>
<path d="M49 527h1v1h-1zM50 528h2v1h-2zM52 529h2v1h-2zM54 530h1v1h-1z" fill="#FF0000"/>
<path d="M57 531h1v1h-1zM58 532h3v1h-3zM61 533h2v1h-2z" fill="#FF0000"/>
<path d="M65 535h4v1h-4zM69 536h2v1h-2z" fill="#FF0000"/>
<path d="M73 537h1v1h-1zM74 538h5v1h-5z" fill="#FF0000"/>
<path d="M81 539h6v1h-6z" fill="#FF0000"/>
<path d="M89 539h4v1h-4zM93 538h2v1h-2z" fill="#FF0000"/>
<path d="M97 538h4v1h-4zM101 537h2v1h-2z" fill="#FF0000"/>
<path d="M105 537h4v1h-4zM109 536h2v1h-2z" fill="#FF0000"/>
<path d="M113 535h4v1h-4zM117 534h2v1h-2z" fill="#FF0000"/>
<path d="M121 533h2v1h-2zM123 532h2v1h-2zM125 531h2v1h-2z" fill="#FF0000"/>
<path d="M129 530h2v1h-2zM131 529h2v1h-2zM133 528h2v1h-2z" fill="#FF0000"/>
<path d="M137 527h2v1h-2zM139 526h4v1h-4z" fill="#FF0000"/>
<path d="M145 525h2v1h-2zM147 524h4v1h-4z" fill="#FF0000"/>
<path d="M153 523h4v1h-4zM157 522h2v1h-2z" fill="#FF0000"/>
<path d="M161 522h4v1h-4zM165 521h2v1h-2z" fill="#FF0000"/>
<path d="M169 520h4v1h-4zM173 519h2v1h-2z" fill="#FF0000"/>
<path d="M177 519h4v1h-4zM181 518h2v1h-2z" fill="#FF0000"/>
<path d="M185 518h6v1h-6z" fill="#FF0000"/>
<path d="M193 517h6v1h-6z" fill="#FF0000"/>
<path d="M201 517h6v1h-6z" fill="#FF0000"/>
<path d="M209 517h6v1h-6z" fill="#FF0000"/>
<path d="M217 517h6v1h-6z" fill="#FF0000"/>
<path d="M225 517h2v1h-2zM227 516h4v1h-4z" fill="#FF0000"/>
<path d="M233 516h2v1h-2zM235 515h4v1h-4z" fill="#FF0000"/>
<path d="M241 515h2v1h-2zM243 514h4v1h-4z" fill="#FF0000"/>
<path d="M249 513h2v1h-2zM251 512h4v1h-4z" fill="#FF0000"/>
<path d="M257 511h2v1h-2zM259 510h4v1h-4z" fill="#FF0000"/>
<path d="M265 509h2v1h-2zM267 508h4v1h-4z" fill="#FF0000"/>
<path d="M273 507h2v1h-2zM275 506h2v1h-2zM277 505h2v1h-2z" fill="#FF0000"/>
<path d="M281 504h2v1h-2zM283 503h2v1h-2zM285 502h2v1h-2z" fill="#FF0000"/>
<path d="M289 500h2v1h-2zM291 499h2v1h-2zM293 498h2v1h-2z" fill="#FF0000"/>
<path d="M297 497h2v1h-2zM299 496h2v1h-2zM301 495h2v1h-2z" fill="#FF0000"/>
<path d="M305 494h2v1h-2zM307 493h2v1h-2zM309 492h2v1h-2z" fill="#FF0000"/>
<path d="M313 491h2v1h-2zM315 490h2v1h-2zM317 489h2v1h-2z" fill="#FF0000"/>
<path d="M321 487h2v1h-2zM323 486h2v1h-2zM325 485h2v1h-2z" fill="#FF0000"/>
<path d="M329 484h2v1h-2zM331 483h2v1h-2zM333 482h2v1h-2z" fill="#FF0000"/>
<path d="M337 481h2v1h-2zM339 480h4v1h-4z" fill="#FF0000"/>
<path d="M345 479h2v1h-2zM347 478h2v1h-2zM349 477h2v1h-2z" fill="#FF0000"/>
<path d="M353 476h2v1h-2zM355 475h4v1h-4z" fill="#FF0000"/>
<path d="M361 474h6v1h-6z" fill="#FF0000"/>
<path d="M369 473h6v1h-6z" fill="#FF0000"/>
<path d="M377 472h6v1h-6z" fill="#FF0000"/>
<path d="M385 471h6v1h-6z" fill="#FF0000"/>
<path d="M393 472h6v1h-6z" fill="#FF0000"/>
<path d="M401 473h4v1h-4zM405 474h2v1h-2z" fill="#FF0000"/>
<path d="M409 474h1v1h-1zM410 475h3v1h-3zM413 476h2v1h-2z" fill="#FF0000"/>
<path d="M417 476h1v1h-1zM418 477h3v1h-3zM421 478h2v1h-2z" fill="#FF0000"/>
<path d="M425 478h1v1h-1zM426 479h3v1h-3zM429 480h2v1h-2z" fill="#FF0000"/>
<path d="M433 480h1v1h-1zM434 481h3v1h-3zM437 482h2v1h-2z" fill="#FF0000"/>
<path d="M441 482h1v1h-1zM442 483h3v1h-3zM445 484h2v1h-2z" fill="#FF0000"/>
<path d="M449 485h1v1h-1zM450 486h3v1h-3zM453 487h2v1h-2z" fill="#FF0000"/>
<path d="M457 487h1v1h-1zM458 488h3v1h-3zM461 489h2v1h-2z" fill="#FF0000"/>
<path d="M465 489h1v1h-1zM466 490h5v1h-5z" fill="#FF0000"/>
<path d="M473 491h6v1h-6z" fill="#FF0000"/>
<path d="M481 491h4v1h-4zM485 490h2v1h-2z" fill="#FF0000"/>
<path d="M489 490h2v1h-2zM491 489h4v1h-4z" fill="#FF0000"/>
<path d="M497 488h2v1h-2zM499 487h4v1h-4z" fill="#FF0000"/>
<path d="M505 487h4v1h-4zM509 486h2v1h-2z" fill="#FF0000"/>
<path d="M513 485h2v1h-2zM515 484h2v1h-2zM517 483h2v1h-2z" fill="#FF0000"/>
<path d="M521 482h2v1h-2zM523 481h2v1h-2zM525 480h2v1h-2z" fill="#FF0000"/>
<path d="M529 479h2v1h-2zM531 478h2v1h-2zM533 477h2v1h-2z" fill="#FF0000"/>
<path d="M537 476h2v1h-2zM539 475h2v1h-2zM541 474h2v1h-2z" fill="#FF0000"/>
<path d="M545 474h2v1h-2zM547 473h2v1h-2zM549 472h2v1h-2z" fill="#FF0000"/>
<path d="M553 471h2v1h-2zM555 470h2v1h-2zM557 469h2v1h-2z" fill="#FF0000"/>
<path d="M561 468h6v1h-6z" fill="#FF0000"/>
<path d="M569 467h6v1h-6z" fill="#FF0000"/>
<path d="M577 467h6v1h-6z" fill="#FF0000"/>
<path d="M585 466h6v1h-6z" fill="#FF0000"/>
<path d="M593 466h6v1h-6z" fill="#FF0000"/>
<path d="M601 465h6v1h-6z" fill="#FF0000"/>
<path d="M609 465h2v1h-2zM611 464h4v1h-4z" fill="#FF0000"/>
<path d="M617 464h6v1h-6z" fill="#FF0000"/>
<path d="M625 464h6v1h-6z" fill="#FF0000"/>
<path d="M633 464h6v1h-6z" fill="#FF0000"/>
<path d="M641 464h6v1h-6z" fill="#FF0000"/>
<path d="M649 464h6v1h-6z" fill="#FF0000"/>
<path d="M657 465h6v1h-6z" fill="#FF0000"/>
<path d="M665 466h4v1h-4zM669 467h2v1h-2z" fill="#FF0000"/>
<path d="M673 467h1v1h-1zM674 468h3v1h-3zM677 469h2v1h-2z" fill="#FF0000"/>
<path d="M681 470h1v1h-1zM682 471h5v1h-5z" fill="#FF0000"/>
<path d="M689 472h1v1h-1zM690 473h3v1h-3zM693 474h2v1h-2z" fill="#FF0000"/>
<path d="M697 475h1v1h-1zM698 476h5v1h-5z" fill="#FF0000"/>
<path d="M705 477h4v1h-4zM709 478h2v1h-2z" fill="#FF0000"/>
<path d="M713 478h1v1h-1zM714 479h3v1h-3zM717 480h2v1h-2z" fill="#FF0000"/>
<path d="M721 480h1v1h-1zM722 481h5v1h-5z" fill="#FF0000"/>
<path d="M729 482h6v1h-6z" fill="#FF0000"/>
<path d="M737 482h4v1h-4zM741 481h2v1h-2z" fill="#FF0000"/>
<path d="M745 481h2v1h-2zM747 480h2v1h-2zM749 479h2v1h-2z" fill="#FF0000"/>
<path d="M753 479h2v1h-2zM755 478h2v1h-2zM757 477h2v1h-2z" fill="#FF0000"/>
<path d="M761 477h2v1h-2zM763 476h2v1h-2zM765 475h2v1h-2z" fill="#FF0000"/>
<path d="M769 474h2v1h-2zM771 473h2v1h-2zM773 472h2v1h-2z" fill="#FF0000"/>
<path d="M777 471h2v1h-2zM779 470h2v1h-2zM781 469h2v1h-2z" fill="#FF0000"/>
<path d="M785 468h2v1h-2zM787 467h2v1h-2zM789 466h2v1h-2z" fill="#FF0000"/>
<path d="M793 465h2v1h-2zM795 464h2v1h-2zM797 463h2v1h-2z" fill="#FF0000"/>
<path d="M801 462h2v1h-2zM803 461h2v1h-2zM805 460h2v1h-2z" fill="#FF0000"/>
<path d="M809 459h6v1h-6z" fill="#FF0000"/>
<path d="M817 458h6v1h-6z" fill="#FF0000"/>
<path d="M825 458h6v1h-6z" fill="#FF0000"/>
<path d="M833 458h6v1h-6z" fill="#FF0000"/>
<path d="M841 458h6v1h-6z" fill="#FF0000"/>
<path d="M849 458h6v1h-6z" fill="#FF0000"/>
<path d="M857 457h6v1h-6z" fill="#FF0000"/>
<path d="M865 456h6v1h-6z" fill="#FF0000"/>
<path d="M873 455h4v1h-4zM877 454h2v1h-2z" fill="#FF0000"/>
<path d="M881 454h2v1h-2zM883 453h2v1h-2zM885 452h2v1h-2z" fill="#FF0000"/>
<path d="M889 451h2v1h-2zM891 450h2v1h-2zM893 449h2v1h-2z" fill="#FF0000"/>
<path d="M897 449h2v1h-2zM899 448h2v1h-2zM901 447h2v1h-2z" fill="#FF0000"/>
<path d="M905 446h2v1h-2zM907 445h4v1h-4z" fill="#FF0000"/>
<path d="M913 444h6v1h-6z" fill="#FF0000"/>
<path d="M921 443h6v1h-6z" fill="#FF0000"/>
<path d="M929 442h6v1h-6z" fill="#FF0000"/>
<path d="M937 442h6v1h-6z" fill="#FF0000"/>
<path d="M945 443h4v1h-4z" fill="#FF0000"/>
</g>
<g class="ce">
<line x1="4" y1="588.5" x2="1208" y2="588.5" stroke="#c0c0c0" stroke-dasharray="3 3"/>
<line x1="4" y1="630.5" x2="1208" y2="630.5" stroke="#c0c0c0" stroke-dasharray="3 3"/>
<path d="M3 622h1v1h-1zM4 623h1v1h-1zM5 624h1v1h-1zM6 625h1v1h-1zM7 626h2v1h-2zM9 627h1v1h-1zM10 628h1v1h-1zM11 629h2v1h-2zM13 630h2v1h-2zM15 631h3v1h-3zM18 632h3v1h-3zM21 631h3v1h-3zM24 630h2v1h-2zM26 629h2v1h-2zM28 630h2v1h-2zM30 631h2v1h-2zM32 632h2v1h-2zM34 633h2v1h-2zM36 632h2v1h-2zM38 631h2v1h-2zM40 630h1v1h-1zM41 629h2v1h-2zM43 628h2v1h-2zM45 629h4v1h-4zM49 630h3v1h-3zM52 629h1v1h-1zM53 627h1v2h-1zM54 626h1v1h-1zM55 625h1v1h-1zM56 624h1v1h-1zM57 622h1v2h-1zM58 621h1v1h-1zM59 620h5v1h-5zM64 619h16v1h-16zM80 618h4v1h-4zM84 619h2v1h-2zM86 620h1v1h-1zM87 621h2v1h-2zM89 622h2v1h-2zM91 623h13v1h-13zM104 622h8v1h-8zM112 621h6v1h-6zM118 620h4v1h-4zM122 619h6v1h-6zM128 618h20v1h-20zM148 619h1v1h-1zM149 620h1v1h-1zM150 621h1v1h-1zM151 622h2v1h-2zM153 623h1v1h-1zM154 624h1v1h-1zM155 625h2v1h-2zM157 626h2v1h-2zM159 627h3v1h-3zM162 628h2v1h-2zM164 627h2v1h-2zM166 626h1v1h-1zM167 625h1v1h-1zM168 624h2v1h-2zM170 623h1v1h-1zM171 622h3v1h-3zM174 621h4v1h-4zM178 620h2v1h-2zM180 621h2v1h-2zM182 622h1v1h-1zM183 623h2v1h-2zM185 624h2v1h-2zM187 625h1v1h-1zM188 624h2v1h-2zM190 623h2v1h-2zM192 622h1v1h-1zM193 621h2v1h-2zM195 620h1v1h-1zM196 621h2v1h-2zM198 622h2v1h-2zM200 623h2v1h-2zM202 624h13v1h-13zM215 625h9v1h-9zM224 624h4v1h-4zM228 622h1v2h-1zM229 621h1v1h-1zM230 619h1v2h-1zM231 618h1v1h-1zM232 616h1v2h-1zM233 615h1v1h-1zM234 613h1v2h-1zM235 612h10v1h-10zM245 611h3v1h-3zM248 610h2v1h-2zM250 609h3v1h-3zM253 610h2v1h-2zM255 611h3v1h-3zM258 612h2v1h-2zM260 611h2v1h-2zM262 610h1v1h-1zM263 609h1v1h-1zM264 608h2v1h-2zM266 607h1v1h-1zM267 606h2v1h-2zM269 607h4v1h-4zM273 608h3v1h-3zM276 609h1v1h-1zM277 610h2v1h-2zM279 611h1v1h-1zM280 612h1v1h-1zM281 613h2v1h-2zM283 614h2v1h-2zM285 613h3v1h-3zM288 612h2v1h-2zM290 611h3v1h-3zM293 610h3v1h-3zM296 609h2v1h-2zM298 608h3v1h-3zM301 607h2v1h-2zM303 606h2v1h-2zM305 605h2v1h-2zM307 604h2v1h-2zM309 603h2v1h-2zM311 602h2v1h-2zM313 601h2v1h-2zM315 600h5v1h-5zM320 599h4v1h-4zM324 600h1v1h-1zM325 601h2v1h-2zM327 602h1v1h-1zM328 603h1v1h-1zM329 604h2v1h-2zM331 605h5v1h-5zM336 604h4v1h-4zM340 605h1v1h-1zM341 606h2v1h-2zM343 607h1v1h-1zM344 608h1v1h-1zM345 609h2v1h-2zM347 610h3v1h-3zM350 609h4v1h-4zM354 608h4v1h-4zM358 607h4v1h-4zM362 606h10v1h-10zM372 607h1v1h-1zM373 608h1v1h-1zM374 609h1v1h-1zM375 610h1v1h-1zM376 611h1v1h-1zM377 612h1v1h-1zM378 613h1v1h-1zM379 614h9v1h-9zM388 615h1v1h-1zM389 616h2v1h-2zM391 617h1v1h-1zM392 618h1v1h-1zM393 619h2v1h-2zM395 620h4v1h-4zM399 621h6v1h-6zM405 620h3v1h-3zM408 619h2v1h-2zM410 618h3v1h-3zM413 619h4v1h-4zM417 620h7v1h-7zM424 619h5v1h-5zM429 618h3v1h-3zM432 617h2v1h-2zM434 616h2v1h-2zM436 617h1v2h-1zM437 619h1v1h-1zM438 620h1v1h-1zM439 621h1v2h-1zM440 623h1v1h-1zM441 624h1v1h-1zM442 625h1v2h-1zM443 627h1v1h-1zM444 626h1v1h-1zM445 625h1v1h-1zM446 624h1v1h-1zM447 623h1v1h-1zM448 622h1v1h-1zM449 621h1v1h-1zM450 620h1v1h-1zM451 619h10v1h-10zM461 618h3v1h-3zM464 617h2v1h-2zM466 616h2v1h-2zM468 614h1v2h-1zM469 612h1v2h-1zM470 611h1v1h-1zM471 609h1v2h-1zM472 608h1v1h-1zM473 606h1v2h-1zM474 604h1v2h-1zM475 603h3v1h-3zM478 602h4v1h-4zM482 601h11v1h-11zM493 602h4v1h-4zM497 603h7v1h-7zM504 602h7v1h-7zM511 603h8v1h-8zM519 604h13v1h-13zM532 603h2v1h-2zM534 602h1v1h-1zM535 601h1v1h-1zM536 600h2v1h-2zM538 599h1v1h-1zM539 598h5v1h-5zM544 597h8v1h-8zM552 596h4v1h-4zM556 597h1v2h-1zM557 599h1v2h-1zM558 601h1v1h-1zM559 602h1v2h-1zM560 604h1v1h-1zM561 605h1v2h-1zM562 607h1v2h-1zM563 609h4v1h-4zM567 610h6v1h-6zM573 609h3v1h-3zM576 608h2v1h-2zM578 607h6v1h-6zM584 606h5v1h-5zM589 605h2v1h-2zM591 604h2v1h-2zM593 603h2v1h-2zM595 602h2v1h-2zM597 601h3v1h-3zM600 600h2v1h-2zM602 599h3v1h-3zM605 598h2v1h-2zM607 597h2v1h-2zM609 596h2v1h-2zM611 595h2v1h-2zM613 596h2v1h-2zM615 597h3v1h-3zM618 598h2v1h-2zM620 599h2v1h-2zM622 600h1v1h-1zM623 601h2v1h-2zM625 602h2v1h-2zM627 603h1v1h-1zM628 604h1v1h-1zM629 605h1v2h-1zM630 607h1v1h-1zM631 608h1v1h-1zM632 609h1v1h-1zM633 610h1v2h-1zM634 612h1v1h-1zM635 613h5v1h-5zM640 612h6v1h-6zM646 611h4v1h-4zM650 610h2v1h-2zM652 611h1v1h-1zM653 612h1v1h-1zM654 613h1v1h-1zM655 614h1v2h-1zM656 616h1v1h-1zM657 617h1v1h-1zM658 618h1v1h-1zM659 619h13v1h-13zM672 618h5v1h-5zM677 619h4v1h-4zM681 620h3v1h-3zM684 619h1v1h-1zM685 618h1v1h-1zM686 617h2v1h-2zM688 616h1v1h-1zM689 615h1v1h-1zM690 614h1v1h-1zM691 613h2v1h-2zM693 614h4v1h-4zM697 615h3v1h-3zM700 614h1v1h-1zM701 613h1v1h-1zM702 612h2v1h-2zM704 611h1v1h-1zM705 610h1v1h-1zM706 609h1v1h-1zM707 608h1v1h-1zM708 609h1v1h-1zM709 610h1v1h-1zM710 611h1v1h-1zM711 612h2v1h-2zM713 613h1v1h-1zM714 614h1v1h-1zM715 615h9v1h-9zM724 613h1v2h-1zM725 612h1v1h-1zM726 610h1v2h-1zM727 609h1v1h-1zM728 607h1v2h-1zM729 606h1v1h-1zM730 604h1v2h-1zM731 603h2v1h-2zM733 602h3v1h-3zM736 601h2v1h-2zM738 600h2v1h-2zM740 599h1v1h-1zM741 598h1v1h-1zM742 597h2v1h-2zM744 596h1v1h-1zM745 595h1v1h-1zM746 594h1v1h-1zM747 593h2v1h-2zM749 594h4v1h-4zM753 595h22v1h-22zM775 596h8v1h-8zM783 597h6v1h-6zM789 598h2v1h-2zM791 599h3v1h-3zM794 600h4v1h-4zM798 599h4v1h-4zM802 598h2v1h-2zM804 599h1v1h-1zM805 600h1v1h-1zM806 601h1v1h-1zM807 602h1v2h-1zM808 604h1v1h-1zM809 605h1v1h-1zM810 606h1v1h-1zM811 607h2v1h-2zM813 608h4v1h-4zM817 609h5v1h-5zM822 608h4v1h-4zM826 607h3v1h-3zM829 606h3v1h-3zM832 605h2v1h-2zM834 604h2v1h-2zM836 602h1v2h-1zM837 600h1v2h-1zM838 599h1v1h-1zM839 597h1v2h-1zM840 596h1v1h-1zM841 594h1v2h-1zM842 592h1v2h-1zM843 591h2v1h-2zM845 590h2v1h-2zM847 589h2v1h-2zM849 588h2v1h-2zM851 587h4v1h-4zM855 588h23v1h-23zM878 587h4v1h-4zM882 586h3v1h-3zM885 587h4v1h-4zM889 588h4v1h-4zM893 589h4v1h-4zM897 590h3v1h-3zM900 591h2v1h-2zM902 592h1v1h-1zM903 593h2v1h-2zM905 594h2v1h-2zM907 595h2v1h-2zM909 594h3v1h-3zM912 593h2v1h-2zM914 592h3v1h-3zM917 593h4v1h-4zM921 594h5v1h-5zM926 593h4v1h-4zM930 592h2v1h-2zM932 593h1v2h-1zM933 595h1v1h-1zM934 596h1v1h-1zM935 597h1v2h-1zM936 599h1v1h-1zM937 600h1v1h-1zM938 601h1v2h-1zM939 603h3v1h-3zM942 602h4v1h-4zM946 601h2v1h-2z" fill="#1E90FF"/>
</g>
<g class="ce" fill="#000">
<rect x="2" y="4" width="1207" height="1"/><rect x="2" y="431" width="1207" height="1"/>
<rect x="2" y="4" width="1" height="428"/>
<rect x="2" y="433" width="1207" height="1"/><rect x="2" y="553" width="1207" height="1"/><rect x="2" y="433" width="1" height="121"/>
<rect x="2" y="555" width="1207" height="1"/><rect x="2" y="662" width="1207" height="1"/><rect x="2" y="555" width="1" height="108"/>
<rect x="1208" y="4" width="1" height="428"/><rect x="1208" y="433" width="1" height="121"/><rect x="1208" y="555" width="1" height="108"/>
<rect x="1209" y="435" width="1" height="1"/>
<rect x="1209" y="552" width="1" height="1"/>
<rect x="1209" y="557" width="1" height="1"/>
<rect x="1209" y="661" width="1" height="1"/>
<rect x="1209" y="32" width="2" height="1"/>
<rect x="1209" y="65" width="2" height="1"/>
<rect x="1209" y="98" width="2" height="1"/>
<rect x="1209" y="131" width="2" height="1"/>
<rect x="1209" y="164" width="2" height="1"/>
<rect x="1209" y="197" width="2" height="1"/>
<rect x="1209" y="230" width="2" height="1"/>
<rect x="1209" y="263" width="2" height="1"/>
<rect x="1209" y="296" width="2" height="1"/>
<rect x="1209" y="329" width="2" height="1"/>
<rect x="1209" y="362" width="2" height="1"/>
<rect x="1209" y="395" width="2" height="1"/>
<rect x="1209" y="428" width="2" height="1"/>
<rect x="1209" y="475" width="1" height="1"/>
<rect x="3" y="663" width="1" height="3"/>
<rect x="67" y="663" width="1" height="3"/>
<rect x="131" y="663" width="1" height="3"/>
<rect x="195" y="663" width="1" height="3"/>
<rect x="259" y="663" width="1" height="3"/>
<rect x="323" y="663" width="1" height="3"/>
<rect x="387" y="663" width="1" height="3"/>
<rect x="451" y="663" width="1" height="3"/>
<rect x="515" y="663" width="1" height="3"/>
<rect x="579" y="663" width="1" height="3"/>
<rect x="643" y="663" width="1" height="3"/>
<rect x="707" y="663" width="1" height="3"/>
<rect x="771" y="663" width="1" height="3"/>
<rect x="835" y="663" width="1" height="3"/>
<rect x="899" y="663" width="1" height="3"/>
</g>
<g class="ce">
<rect x="1208" y="101" width="1" height="1" fill="#c0c0c0"/>
<rect x="2" y="250" width="1207" height="2" fill="#3A4CE4"/>
<rect x="2" y="404" width="1207" height="2" fill="#3A4CE4"/>
<rect x="2" y="96" width="1207" height="2" fill="#00CF00"/>
</g>
<g class="ce">
<rect x="1211" y="96" width="34" height="11" fill="#000"/>
<rect x="1211" y="91" width="34" height="11" fill="#00CF00"/>
<rect x="1211" y="245" width="34" height="11" fill="#3A4CE4"/>
<rect x="1211" y="399" width="34" height="11" fill="#3A4CE4"/>
</g>
<text x="1214" y="36" textLength="27" lengthAdjust="spacingAndGlyphs">5372.0</text>
<text x="1214" y="69" textLength="27" lengthAdjust="spacingAndGlyphs">5328.0</text>
<text x="1214" y="135" textLength="27" lengthAdjust="spacingAndGlyphs">5240.0</text>
<text x="1214" y="168" textLength="27" lengthAdjust="spacingAndGlyphs">5196.0</text>
<text x="1214" y="201" textLength="27" lengthAdjust="spacingAndGlyphs">5152.0</text>
<text x="1214" y="234" textLength="27" lengthAdjust="spacingAndGlyphs">5108.0</text>
<text x="1214" y="267" textLength="27" lengthAdjust="spacingAndGlyphs">5064.0</text>
<text x="1214" y="300" textLength="27" lengthAdjust="spacingAndGlyphs">5020.0</text>
<text x="1214" y="333" textLength="27" lengthAdjust="spacingAndGlyphs">4976.0</text>
<text x="1214" y="366" textLength="27" lengthAdjust="spacingAndGlyphs">4932.0</text>
<text x="1214" y="399" textLength="27" lengthAdjust="spacingAndGlyphs">4888.0</text>
<text x="1214" y="432" textLength="27" lengthAdjust="spacingAndGlyphs">4844.0</text>
<text class="w" x="1214" y="105" textLength="27" lengthAdjust="spacingAndGlyphs">5279.5</text>
<rect x="1211" y="91" width="34" height="11" fill="#00CF00" class="ce"/>
<text class="w" x="1214" y="100" textLength="27" lengthAdjust="spacingAndGlyphs">5285.0</text>
<rect x="1211" y="245" width="34" height="11" fill="#3A4CE4" class="ce"/>
<text class="w" x="1214" y="254" textLength="27" lengthAdjust="spacingAndGlyphs">5080.0</text>
<rect x="1211" y="399" width="34" height="11" fill="#3A4CE4" class="ce"/>
<text class="w" x="1214" y="408" textLength="27" lengthAdjust="spacingAndGlyphs">4875.0</text>
<text x="1212" y="444" textLength="22.5" lengthAdjust="spacingAndGlyphs">73.85</text>
<text x="1212" y="479" textLength="17.5" lengthAdjust="spacingAndGlyphs">0.00</text>
<text x="1212" y="550" textLength="30.5" lengthAdjust="spacingAndGlyphs">-140.67</text>
<text x="1213" y="566" textLength="14" lengthAdjust="spacingAndGlyphs">100</text>
<text x="1210" y="592" textLength="10" lengthAdjust="spacingAndGlyphs">70</text>
<text x="1210" y="634" textLength="10" lengthAdjust="spacingAndGlyphs">30</text>
<text x="1212" y="659" textLength="5" lengthAdjust="spacingAndGlyphs">0</text>
<polygon points="6,11 14,11 10,15.5" fill="#000"/>
<text x="18" y="16" textLength="64.5" lengthAdjust="spacingAndGlyphs">CHINA300-,H4</text>
<text x="89" y="16" textLength="27.5" lengthAdjust="spacingAndGlyphs">5266.0</text>
<text x="119.8" y="16" textLength="27.5" lengthAdjust="spacingAndGlyphs">5288.5</text>
<text x="150.4" y="16" textLength="27.5" lengthAdjust="spacingAndGlyphs">5247.4</text>
<text x="181.3" y="16" textLength="27.5" lengthAdjust="spacingAndGlyphs">5279.5</text>
<text x="7" y="446" textLength="117.4" lengthAdjust="spacingAndGlyphs">MACD(12,26,9) 47.42 58.62</text>
<text x="7" y="568" textLength="67.3" lengthAdjust="spacingAndGlyphs">RSI(14) 57.2586</text>
<text transform="translate(2,675) scale(0.92,1)">5 Mar 2021</text>
<text transform="translate(66,675) scale(0.92,1)">11 Mar 05:00</text>
<text transform="translate(130,675) scale(0.92,1)">17 Mar 05:00</text>
<text transform="translate(194,675) scale(0.92,1)">23 Mar 05:00</text>
<text transform="translate(258,675) scale(0.92,1)">29 Mar 05:00</text>
<text transform="translate(322,675) scale(0.92,1)">2 Apr 05:00</text>
<text transform="translate(386,675) scale(0.92,1)">9 Apr 05:00</text>
<text transform="translate(450,675) scale(0.92,1)">15 Apr 05:00</text>
<text transform="translate(514,675) scale(0.92,1)">21 Apr 05:00</text>
<text transform="translate(578,675) scale(0.92,1)">27 Apr 05:00</text>
<text transform="translate(642,675) scale(0.92,1)">6 May 05:00</text>
<text transform="translate(706,675) scale(0.92,1)">12 May 05:00</text>
<text transform="translate(770,675) scale(0.92,1)">18 May 05:00</text>
<text transform="translate(834,675) scale(0.92,1)">24 May 05:00</text>
<text transform="translate(898,675) scale(0.92,1)">28 May 05:00</text>
<text x="936.5" y="185.5" style="font-size:33px;fill:#FF0000;stroke:none" textLength="169.2" lengthAdjust="spacingAndGlyphs">多空转折点</text>
<text x="1105" y="185" style="font-size:35px;fill:#FF0000;stroke:none" textLength="81.5" lengthAdjust="spacingAndGlyphs">5285</text>
</svg></body></html>
